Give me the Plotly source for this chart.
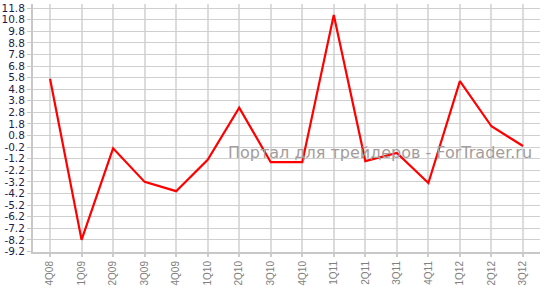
import plotly.graph_objects as go

quarters = ["4Q08", "1Q09", "2Q09", "3Q09", "4Q09", "1Q10", "2Q10", "3Q10",
            "4Q10", "1Q11", "2Q11", "3Q11", "4Q11", "1Q12", "2Q12", "3Q12"]
values = [5.7, -8.2, -0.3, -3.2, -4.0, -1.3, 3.2, -1.5,
          -1.5, 11.2, -1.4, -0.7, -3.3, 5.5, 1.6, -0.1]
y_ticks = [round(-9.2 + i, 1) for i in range(22)]

fig = go.Figure()
fig.add_trace(go.Scatter(x=list(range(len(quarters))), y=values, mode="lines",
                         line=dict(color="#ff0000", width=2.2)))

fig.update_layout(
    width=540, height=287,
    margin=dict(l=33, r=0, t=4, b=35),
    plot_bgcolor="white", paper_bgcolor="white",
    showlegend=False,
    xaxis=dict(
        range=[-0.54, 15.54], automargin=False,
        tickmode="array", tickvals=list(range(len(quarters))), ticktext=quarters,
        tickangle=-90, tickfont=dict(family="Liberation Sans", size=10, color="#808080"),
        showgrid=True, gridcolor="#dcdcdc", gridwidth=2,
        ticks="outside", ticklen=3, tickcolor="#cccccc", tickwidth=2,
        showline=True, linecolor="#c8c8c8", linewidth=2,
        zeroline=False, fixedrange=True,
    ),
    yaxis=dict(
        range=[-9.25, 12.15], automargin=False,
        tickmode="array", tickvals=y_ticks, ticktext=[f"{v:.1f}" for v in y_ticks],
        tickfont=dict(family="DejaVu Sans", size=10.5, color="#1c1c4c"),
        showgrid=True, gridcolor="#cfcfcf", gridwidth=1,
        ticks="outside", ticklen=4, tickcolor="#c8c8c8",
        showline=True, linecolor="#c8c8c8", linewidth=2,
        zeroline=False, fixedrange=True,
    ),
    annotations=[dict(text="Портал для трейдеров - ForTrader.ru", xref="paper", yref="paper",
                      x=0.988, y=0.40, xanchor="right", yanchor="middle", showarrow=False,
                      font=dict(family="DejaVu Sans", size=16, color="#a49c9c"))],
)

fig.write_html("out.html")
